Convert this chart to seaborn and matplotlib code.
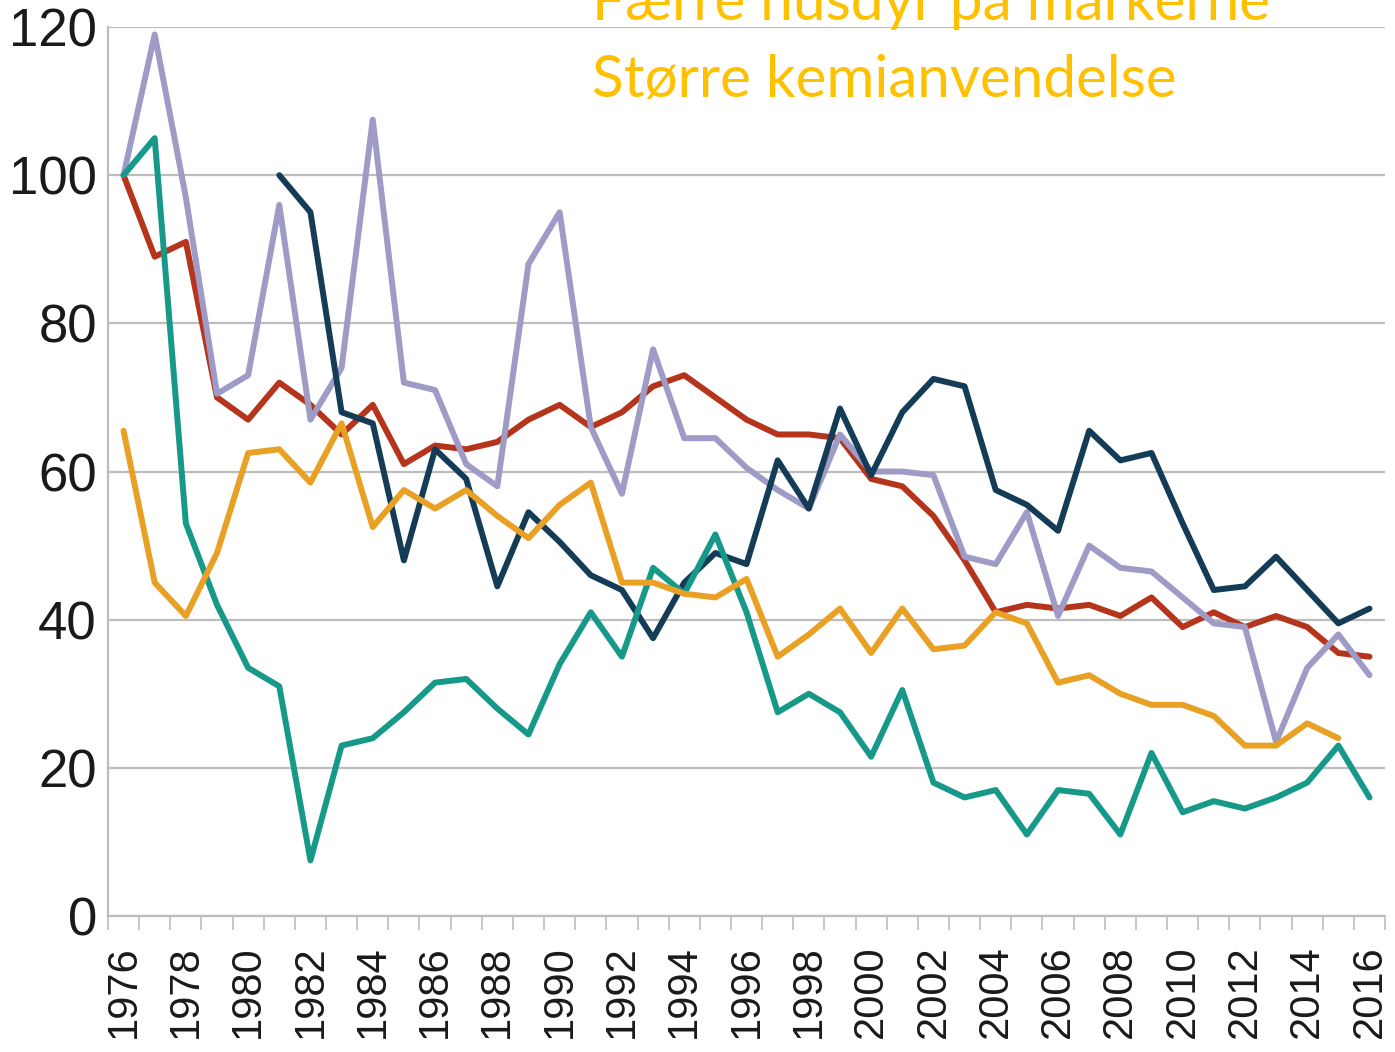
import matplotlib
matplotlib.use('Agg')

import numpy as np
import pandas as pd
import matplotlib.pyplot as plt
import seaborn as sns
from matplotlib import font_manager

nan = np.nan
years = list(range(1976, 2017))

red = [100, 89, 91, 70, 67, 72, 69, 65, 69, 61,
       63.5, 63, 64, 67, 69, 66, 68, 71.5, 73, 70,
       67, 65, 65, 64.5, 59, 58, 54, 48, 41, 42,
       41.5, 42, 40.5, 43, 39, 41, 39, 40.5, 39, 35.5,
       35]
navy = [nan, nan, nan, nan, nan,
        100, 95, 68, 66.5, 48, 63, 59, 44.5, 54.5, 50.5,
        46, 44, 37.5, 45, 49, 47.5, 61.5, 55, 68.5, 59.5,
        68, 72.5, 71.5, 57.5, 55.5, 52, 65.5, 61.5, 62.5, 53,
        44, 44.5, 48.5, 44, 39.5, 41.5]
lavender = [100, 119, 97, 70.5, 73, 96, 67, 74, 107.5, 72,
            71, 61, 58, 88, 95, 66, 57, 76.5, 64.5, 64.5,
            60.5, 57.5, 55, 65, 60, 60, 59.5, 48.5, 47.5, 54.5,
            40.5, 50, 47, 46.5, 43, 39.5, 39, 23.5, 33.5, 38,
            32.5]
orange = [65.5, 45, 40.5, 49, 62.5, 63, 58.5, 66.5, 52.5, 57.5,
          55, 57.5, 54, 51, 55.5, 58.5, 45, 45, 43.5, 43,
          45.5, 35, 38, 41.5, 35.5, 41.5, 36, 36.5, 41, 39.5,
          31.5, 32.5, 30, 28.5, 28.5, 27, 23, 23, 26, 24,
          nan]
teal = [100, 105, 53, 42, 33.5, 31, 7.5, 23, 24, 27.5,
        31.5, 32, 28, 24.5, 34, 41, 35, 47, 43.5, 51.5,
        41, 27.5, 30, 27.5, 21.5, 30.5, 18, 16, 17, 11,
        17, 16.5, 11, 22, 14, 15.5, 14.5, 16, 18, 23,
        16]

series = {'red': red, 'lavender': lavender, 'navy': navy, 'teal': teal, 'orange': orange}
colors = {'red': '#b5341c', 'lavender': '#9e9cc6', 'navy': '#153c57',
          'teal': '#17998a', 'orange': '#e8a125'}

title_lines = ['Færre husdyr på markerne', 'Større kemianvendelse']

rows = []
for name, vals in series.items():
    for y, v in zip(years, vals):
        rows.append({'year': y, 'value': v, 'series': name})
df = pd.DataFrame(rows).dropna()

sns.set_style('white')
installed = {f.name for f in font_manager.fontManager.ttflist}
narrow = 'Liberation Sans Narrow' in installed
plt.rcParams['font.family'] = ['Liberation Sans', 'DejaVu Sans']

fig = plt.figure(figsize=(13.95, 10.52), dpi=100)
ax = fig.add_axes([0.0774, 0.1293, 0.9155, 0.845])

sns.lineplot(data=df, x='year', y='value', hue='series', hue_order=list(series.keys()),
             palette=colors, linewidth=4.3, legend=False, ax=ax, zorder=3)
for line in ax.lines:
    line.set_solid_joinstyle('round')
    line.set_solid_capstyle('round')

ax.set_xlim(1975.5, 2016.5)
ax.set_ylim(0, 120)
ax.set_xlabel('')
ax.set_ylabel('')

ax.set_yticks(range(0, 121, 20))
ax.yaxis.grid(True, color='#bdbdbd', linewidth=1.6)
ax.set_axisbelow(True)
ax.tick_params(axis='y', length=0, pad=8)
for lab in ax.get_yticklabels():
    if narrow:
        lab.set_family('Liberation Sans Narrow')
        lab.set_fontsize(42)
    else:
        lab.set_fontsize(38)
    lab.set_color('#1a1a1a')

ax.set_xticks(range(1976, 2017, 2))
ax.set_xticklabels([str(y) for y in range(1976, 2017, 2)], rotation=90, fontsize=30, color='#1a1a1a')
ax.set_xticks(np.arange(1975.5, 2017, 1), minor=True)
ax.tick_params(axis='x', which='major', length=0, pad=21)
ax.tick_params(axis='x', which='minor', length=10, width=1.2, color='#bdbdbd', bottom=True)

for side in ['top', 'right']:
    ax.spines[side].set_visible(False)
for side in ['left', 'bottom']:
    ax.spines[side].set_color('#bdbdbd')
    ax.spines[side].set_linewidth(1.6)

fig.text(592 / 1395, 1 - 20 / 1052, title_lines[0], color='#FFC000', fontsize=42,
         family=['Lato', 'DejaVu Sans'], va='baseline', ha='left')
fig.text(592 / 1395, 1 - 97 / 1052, title_lines[1], color='#FFC000', fontsize=42,
         family=['Lato', 'DejaVu Sans'], va='baseline', ha='left')

fig.savefig('out.png', dpi=100)
